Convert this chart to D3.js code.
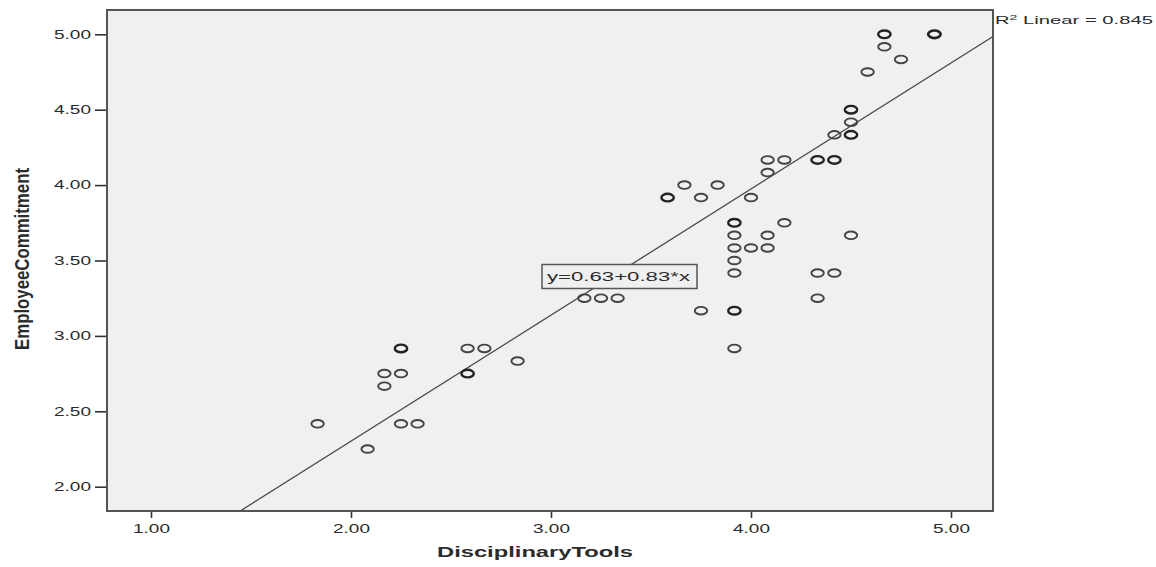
<!DOCTYPE html>
<html>
<head>
<meta charset="utf-8">
<script src="https://cdn.jsdelivr.net/npm/d3@7"></script>
<style>
  body { margin: 0; background: #fff; }
  text { font-family: "Liberation Sans", Arial, sans-serif; fill: #2b2b2b; }
</style>
</head>
<body>
<div id="chart"></div>
<script>
// DisciplinaryTools (x) vs EmployeeCommitment (y); repeated pairs are repeated respondents
const xValues = [
  1.833, 2.083, 2.167, 2.167, 2.25, 2.25, 2.25, 2.25, 2.333,
  2.583, 2.583, 2.583, 2.667, 2.833,
  3.167, 3.25, 3.333, 3.583, 3.583, 3.667, 3.75, 3.75, 3.833,
  3.917, 3.917, 3.917, 3.917, 3.917, 3.917, 3.917, 3.917, 3.917,
  4.0, 4.0, 4.083, 4.083, 4.083, 4.083, 4.167, 4.167,
  4.333, 4.333, 4.333, 4.333, 4.417, 4.417, 4.417, 4.417,
  4.5, 4.5, 4.5, 4.5, 4.5, 4.5, 4.583, 4.667, 4.667, 4.667, 4.75,
  4.917, 4.917, 4.917
];
const yValues = [
  2.417, 2.25, 2.75, 2.667, 2.917, 2.917, 2.75, 2.417, 2.417,
  2.917, 2.75, 2.75, 2.917, 2.833,
  3.25, 3.25, 3.25, 3.917, 3.917, 4.0, 3.917, 3.167, 4.0,
  3.75, 3.75, 3.667, 3.583, 3.5, 3.417, 3.167, 3.167, 2.917,
  3.917, 3.583, 4.167, 4.083, 3.667, 3.583, 4.167, 3.75,
  4.167, 4.167, 3.417, 3.25, 4.333, 4.167, 4.167, 3.417,
  4.5, 4.5, 4.417, 4.333, 4.333, 3.667, 4.75, 5.0, 5.0, 4.917, 4.833,
  5.0, 5.0, 5.0
];
const xTicks = [1, 2, 3, 4, 5];
const yTicks = [2, 2.5, 3, 3.5, 4, 4.5, 5];
const fitIntercept = 0.63;
const fitSlope = 0.836;
const fitLabel = 'y=0.63+0.83*x';
const r2Value = '0.845';

const width = 1156, height = 567;
const plot = { left: 107, right: 993, top: 10, bottom: 511 };

const x = d3.scaleLinear().domain([0.78, 5.21]).range([plot.left, plot.right]);
const y = d3.scaleLinear().domain([1.839, 5.161]).range([plot.bottom, plot.top]);

const svg = d3.select('#chart').append('svg')
  .attr('width', width)
  .attr('height', height);

svg.append('defs').append('clipPath').attr('id', 'plotClip')
  .append('rect')
  .attr('x', plot.left).attr('y', plot.top)
  .attr('width', plot.right - plot.left).attr('height', plot.bottom - plot.top);

// plot background
svg.append('rect')
  .attr('x', plot.left).attr('y', plot.top)
  .attr('width', plot.right - plot.left).attr('height', plot.bottom - plot.top)
  .attr('fill', '#f0f0f0');

// axes
const fmt = d3.format('.2f');
const yAxis = svg.append('g')
  .attr('transform', `translate(${plot.left},0)`)
  .call(d3.axisLeft(y).tickValues(yTicks).tickSize(12).tickPadding(4).tickFormat(fmt));
const xAxis = svg.append('g')
  .attr('transform', `translate(0,${plot.bottom})`)
  .call(d3.axisBottom(x).tickValues(xTicks).tickSize(7).tickPadding(6).tickFormat(fmt));

[xAxis, yAxis].forEach(g => {
  g.select('.domain').remove();
  g.selectAll('.tick line').attr('stroke', '#333').attr('stroke-width', 1.6);
  g.selectAll('.tick text')
    .attr('font-size', 12)
    .attr('fill', '#333')
    .attr('textLength', 37)
    .attr('lengthAdjust', 'spacingAndGlyphs');
});

// points, thicker ring where responses coincide
const points = xValues.map((v, i) => ({ x: v, y: yValues[i] }));
const counts = d3.rollup(points, v => v.length, d => d.x + '|' + d.y);
const unique = Array.from(counts, ([key, n]) => {
  const [px, py] = key.split('|').map(Number);
  return { x: px, y: py, n };
});

const layer = svg.append('g').attr('clip-path', 'url(#plotClip)');

// fit line
const xd = x.domain();
layer.append('line')
  .attr('x1', x(xd[0])).attr('y1', y(fitIntercept + fitSlope * xd[0]))
  .attr('x2', x(xd[1])).attr('y2', y(fitIntercept + fitSlope * xd[1]))
  .attr('stroke', '#4a4a4a')
  .attr('stroke-width', 1.3);

layer.selectAll('.pt')
  .data(unique)
  .enter()
  .append('ellipse')
  .attr('class', 'pt')
  .attr('cx', d => x(d.x))
  .attr('cy', d => y(d.y))
  .attr('rx', 6.2)
  .attr('ry', 3.8)
  .attr('fill', 'none')
  .attr('stroke', d => d.n > 1 ? '#222' : '#444')
  .attr('stroke-width', d => d.n > 2 ? 2.7 : d.n > 1 ? 2.4 : 1.9);

// frame
svg.append('rect')
  .attr('x', plot.left).attr('y', plot.top)
  .attr('width', plot.right - plot.left).attr('height', plot.bottom - plot.top)
  .attr('fill', 'none')
  .attr('stroke', '#555')
  .attr('stroke-width', 2);

// fit equation box
svg.append('rect')
  .attr('x', 542).attr('y', 264.5)
  .attr('width', 155).attr('height', 24)
  .attr('fill', '#f0f0f0')
  .attr('stroke', '#555')
  .attr('stroke-width', 1.5);
svg.append('text')
  .attr('x', 547).attr('y', 281)
  .attr('font-size', 12)
  .attr('textLength', 143)
  .attr('lengthAdjust', 'spacingAndGlyphs')
  .text(fitLabel);

// R squared note
const r2 = svg.append('text')
  .attr('x', 995).attr('y', 24)
  .attr('font-size', 11.5)
  .attr('textLength', 158)
  .attr('lengthAdjust', 'spacingAndGlyphs');
r2.append('tspan').text('R');
r2.append('tspan').attr('dy', -4).attr('font-size', 8).text('2');
r2.append('tspan').attr('dy', 4).text(' Linear = ' + r2Value);

// axis titles
svg.append('text')
  .attr('x', 535).attr('y', 557)
  .attr('text-anchor', 'middle')
  .attr('font-size', 15)
  .attr('font-weight', 'bold')
  .attr('fill', '#111')
  .attr('textLength', 196)
  .attr('lengthAdjust', 'spacingAndGlyphs')
  .text('DisciplinaryTools');

svg.append('text')
  .attr('transform', 'translate(29,259) scale(1.55,1) rotate(-90)')
  .attr('text-anchor', 'middle')
  .attr('font-size', 13)
  .attr('font-weight', 'bold')
  .attr('fill', '#111')
  .attr('textLength', 182)
  .attr('lengthAdjust', 'spacingAndGlyphs')
  .text('EmployeeCommitment');
</script>
</body>
</html>
